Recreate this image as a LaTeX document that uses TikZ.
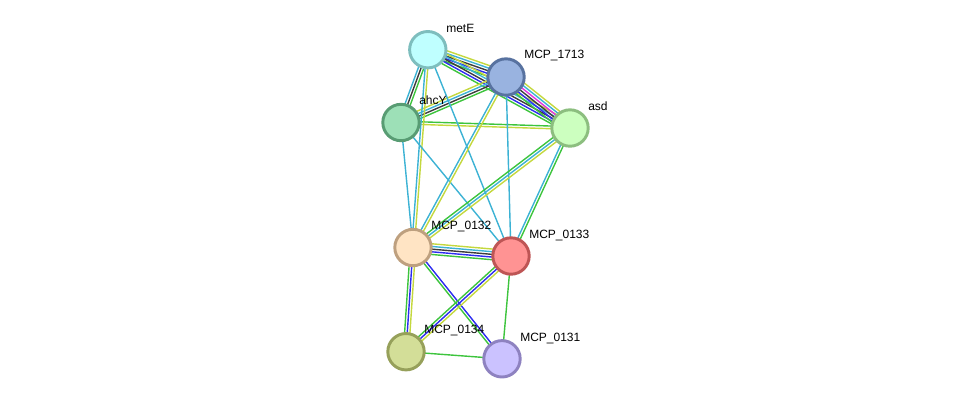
\documentclass[tikz,border=0pt]{standalone}
\usepackage{fontspec}
\setmainfont{Liberation Sans}
\usetikzlibrary{calc}
\pgfdeclarelayer{bg}
\pgfsetlayers{bg,main}
\definecolor{cg}{RGB}{61,196,61}
\definecolor{cb}{RGB}{45,45,240}
\definecolor{ck}{RGB}{60,60,60}
\definecolor{cm}{RGB}{225,50,225}
\definecolor{cc}{RGB}{60,178,212}
\definecolor{cy}{RGB}{196,216,62}
\tikzset{
  prot/.style={circle,inner sep=0pt,outer sep=0pt,minimum size=27.3pt,line width=2.2pt},
  lab/.style={anchor=base west,inner sep=0pt,font=\fontsize{9pt}{10pt}\selectfont},
  edge/.style={line width=1.05pt},
}
\newcommand{\bundle}[4]{%
  \foreach \c [count=\i] in {#4} {%
    \pgfmathsetmacro\off{(\i-1-(#3-1)/2)*2.0}%
    \draw[edge,draw=\c] ($(#1)!\off pt!90:(#2)$) -- ($(#2)!\off pt!-90:(#1)$);
  }%
}
\begin{document}
\begin{tikzpicture}[x=0.75pt,y=-0.75pt]
\useasboundingbox (0,0) rectangle (975,404);
\node[prot,fill={rgb,255:red,191;green,255;blue,255},draw={rgb,255:red,126;green,190;blue,190}] (metE) at (427.8,49.7) {};
\node[prot,fill={rgb,255:red,153;green,179;blue,224},draw={rgb,255:red,88;green,114;blue,160}] (m1713) at (506,77) {};
\node[prot,fill={rgb,255:red,157;green,224;blue,183},draw={rgb,255:red,88;green,156;blue,115}] (ahcY) at (401,122.5) {};
\node[prot,fill={rgb,255:red,204;green,255;blue,191},draw={rgb,255:red,140;green,190;blue,127}] (asd) at (570,128) {};
\node[prot,fill={rgb,255:red,255;green,228;blue,196},draw={rgb,255:red,190;green,160;blue,127}] (m0132) at (413,247.5) {};
\node[prot,fill={rgb,255:red,255;green,147;blue,147},draw={rgb,255:red,190;green,85;blue,85}] (m0133) at (511,256) {};
\node[prot,fill={rgb,255:red,211;green,222;blue,152},draw={rgb,255:red,150;green,160;blue,90}] (m0134) at (406,351.7) {};
\node[prot,fill={rgb,255:red,203;green,194;blue,255},draw={rgb,255:red,142;green,130;blue,192}] (m0131) at (502,358.8) {};
\node[lab] (lmetE) at (446,32) {metE};
\node[lab] (l1713) at (524,58) {MCP\_1713};
\node[lab] (lahcY) at (419,104.5) {ahcY};
\node[lab] (lasd) at (588,110) {asd};
\node[lab] (l0132) at (431,229.5) {MCP\_0132};
\node[lab] (l0133) at (529,238) {MCP\_0133};
\node[lab] (l0134) at (424,333) {MCP\_0134};
\node[lab] (l0131) at (520,341) {MCP\_0131};
\begin{pgfonlayer}{bg}
\bundle{metE}{m1713}{5}{cg,cb,ck,cc,cy}
\bundle{metE}{asd}{5}{cg,cb,ck,cc,cy}
\bundle{m1713}{asd}{6}{cg,cb,ck,cm,cc,cy}
\bundle{ahcY}{metE}{3}{cg,ck,cc}
\bundle{ahcY}{m1713}{4}{cg,ck,cc,cy}
\bundle{ahcY}{asd}{2}{cy,cg}
\bundle{metE}{m0132}{2}{cc,cy}
\bundle{metE}{m0133}{1}{cc}
\bundle{ahcY}{m0132}{1}{cc}
\bundle{ahcY}{m0133}{1}{cc}
\bundle{m1713}{m0132}{2}{cc,cy}
\bundle{m1713}{m0133}{1}{cc}
\bundle{asd}{m0132}{3}{cg,cc,cy}
\bundle{asd}{m0133}{2}{cc,cg}
\bundle{m0132}{m0133}{5}{cg,cb,ck,cc,cy}
\bundle{m0132}{m0134}{3}{cg,cb,cy}
\bundle{m0132}{m0131}{2}{cg,cb}
\bundle{m0133}{m0134}{3}{cg,cb,cy}
\bundle{m0133}{m0131}{1}{cg}
\bundle{m0134}{m0131}{1}{cg}
\end{pgfonlayer}
\end{tikzpicture}
\end{document}
